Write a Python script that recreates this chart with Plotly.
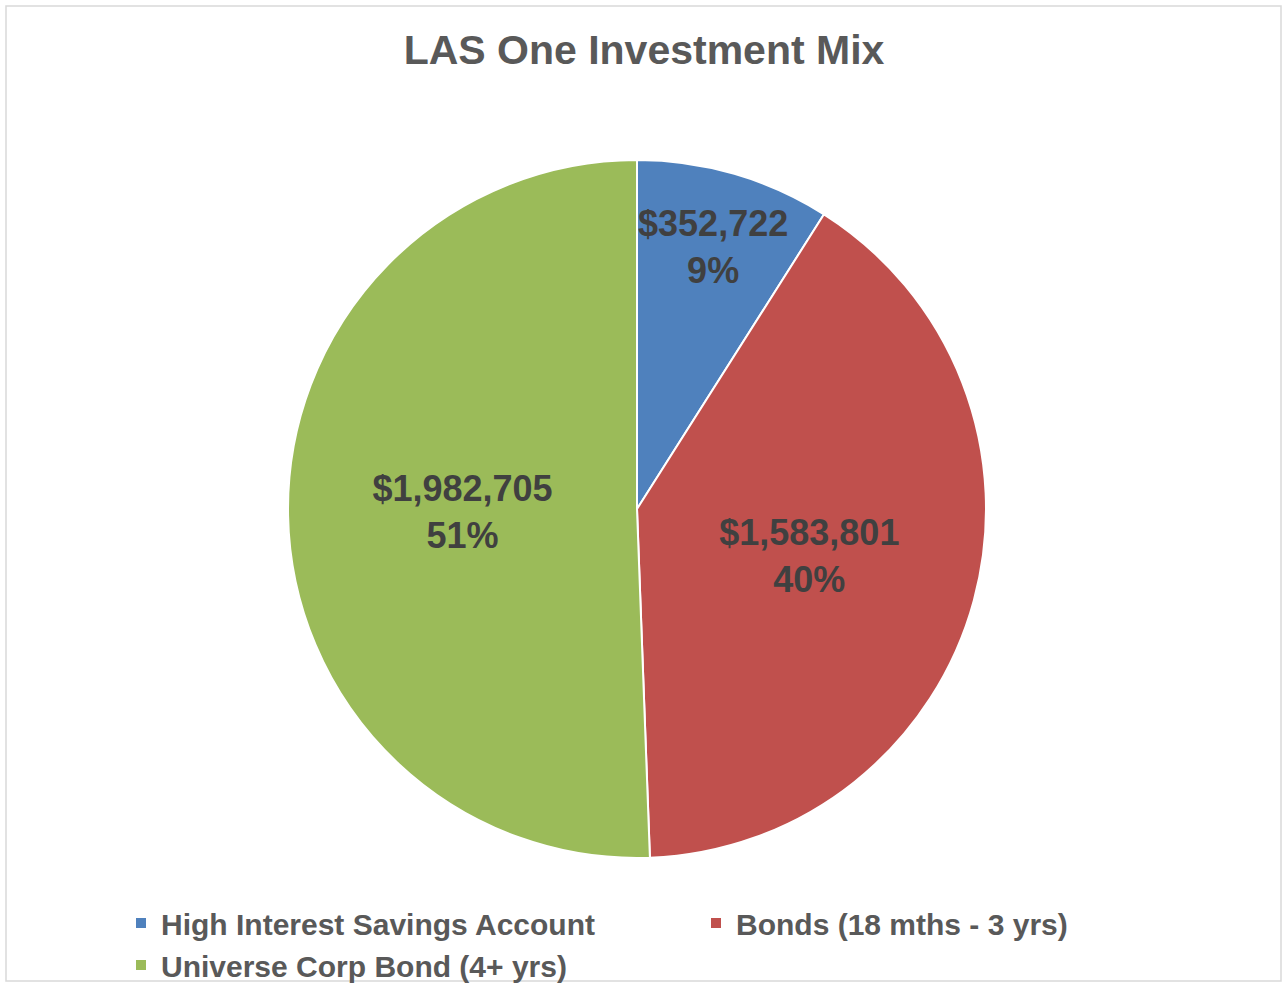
import plotly.graph_objects as go

categories = ["High Interest Savings Account", "Bonds (18 mths - 3 yrs)", "Universe Corp Bond (4+ yrs)"]
values = [352722, 1583801, 1982705]
colors = ["#4F81BD", "#C0504D", "#9BBB59"]
title_text = "LAS One Investment Mix"

W, H = 1283, 983

fig = go.Figure(go.Pie(
    labels=categories,
    values=values,
    sort=False,
    direction="clockwise",
    rotation=0,
    marker=dict(colors=colors, line=dict(color="white", width=2)),
    texttemplate="$%{value:,}<br>%{percent:.0%}",
    textposition="inside",
    insidetextorientation="horizontal",
    textfont=dict(family="Liberation Sans", size=36, color="#404040", weight="bold"),
    hoverinfo="label+value+percent",
    domain=dict(x=[(637 - 349) / W, (637 + 349) / W], y=[(H - 858) / H, (H - 160) / H]),
))

fig.update_layout(
    width=W, height=H,
    margin=dict(l=0, r=0, t=0, b=0, autoexpand=False),
    paper_bgcolor="white",
    plot_bgcolor="white",
    uniformtext=dict(minsize=36, mode="show"),
    title=dict(text="<b>" + title_text + "</b>", x=644 / W, y=1 - 50 / H, xanchor="center", yanchor="middle",
               xref="paper", yref="container",
               font=dict(family="Liberation Sans", size=41, color="#595959")),
    showlegend=True,
    legend=dict(orientation="h", x=121 / W, y=1 - 897 / H, xanchor="left", yanchor="top",
                entrywidth=530, entrywidthmode="pixels", traceorder="normal",
                bgcolor="rgba(0,0,0,0)",
                font=dict(family="Liberation Sans", size=30, color="#595959", weight="bold"),
                tracegroupgap=0),
    shapes=[dict(type="rect", xref="paper", yref="paper",
                 x0=6 / W, x1=1281 / W, y0=(H - 981) / H, y1=(H - 6) / H,
                 line=dict(color="#d9d9d9", width=1.5), fillcolor="rgba(0,0,0,0)", layer="below")],
)

fig.write_html("out.html")
